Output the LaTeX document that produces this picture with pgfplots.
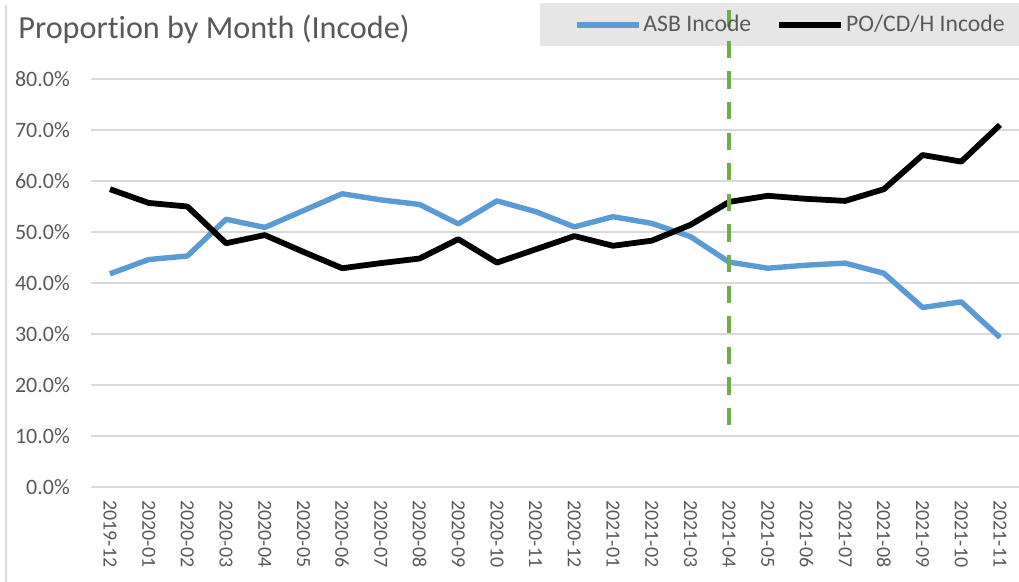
\documentclass[border=0pt]{standalone}
\usepackage{fontspec}
\setmainfont{Carlito}[Ligatures=NoCommon]
\usepackage{pgfplots}
\pgfplotsset{compat=1.18}
\definecolor{asb}{HTML}{5B9BD5}
\definecolor{grn}{HTML}{70AD47}
\definecolor{grd}{HTML}{D9D9D9}
\definecolor{txt}{HTML}{595959}
\definecolor{lgbg}{HTML}{E6E6E6}
\newlength\px \setlength\px{0.5pt}
\begin{document}
\begin{tikzpicture}
\useasboundingbox (0,0) rectangle (1019\px,-582\px);
\fill[white] (0,0) rectangle (1019\px,-582\px);
\draw[grd, line width=1.5\px] (6\px,-5\px) -- (6\px,-582\px);
\fill[lgbg] (540\px,-3\px) rectangle (1019\px,-46\px);
\node[anchor=base west, inner sep=0pt, text=txt, font=\fontsize{16.1pt}{19pt}\selectfont] at (18\px,-38.5\px) {Proportion by Month (Incode)};
\begin{axis}[
  at={(90.65\px,-487\px)}, anchor=south west,
  scale only axis, width=928.7\px, height=408\px,
  xmin=-0.5, xmax=23.5, ymin=0, ymax=80,
  clip=false,
  axis line style={draw=none},
  major tick length=0pt,
  ymajorgrids, grid style={grd, line width=1pt},
  ytick={0,10,...,80},
  yticklabels={0.0\%,10.0\%,20.0\%,30.0\%,40.0\%,50.0\%,60.0\%,70.0\%,80.0\%},
  yticklabel style={anchor=east, inner sep=0pt, xshift=-20.5\px, text=txt, font=\fontsize{11pt}{13pt}\selectfont},
  xtick=data,
  xticklabels={2019-12,2020-01,2020-02,2020-03,2020-04,2020-05,2020-06,2020-07,2020-08,2020-09,2020-10,2020-11,2020-12,2021-01,2021-02,2021-03,2021-04,2021-05,2021-06,2021-07,2021-08,2021-09,2021-10,2021-11},
  xticklabel style={yshift=-13\px, rotate=-90, anchor=west, inner sep=0pt, text=txt, font=\fontsize{10pt}{12pt}\selectfont},
  legend columns=2,
  legend style={at={(axis description cs:0.5205,1.1324)}, anchor=west, draw=none, fill=none, inner sep=0pt, outer sep=0pt,
    nodes={inner xsep=1pt, inner ysep=0pt, text=txt, font=\fontsize{11.85pt}{14pt}\selectfont},
    /tikz/every even column/.append style={column sep=23\px}},
  legend image code/.code={\draw[#1] (0pt,0pt) -- (31pt,0pt);},
]
\addplot[asb, line width=2.7pt, line join=round] coordinates {
(0,41.8) (1,44.6) (2,45.3) (3,52.5) (4,50.9) (5,54.2) (6,57.5) (7,56.3) (8,55.4) (9,51.6) (10,56.1) (11,54.0)
(12,51.0) (13,53.0) (14,51.7) (15,49.1) (16,44.1) (17,42.9) (18,43.5) (19,43.9) (20,41.9) (21,35.2) (22,36.3) (23,29.3)};
\addlegendentry{ASB Incode}
\addplot[black, line width=2.9pt, line join=round] coordinates {
(0,58.4) (1,55.7) (2,55.0) (3,47.8) (4,49.4) (5,46.1) (6,42.9) (7,43.9) (8,44.8) (9,48.6) (10,44.0) (11,46.6)
(12,49.2) (13,47.3) (14,48.3) (15,51.4) (16,55.9) (17,57.1) (18,56.5) (19,56.1) (20,58.4) (21,65.1) (22,63.8) (23,71.0)};
\addlegendentry{PO/CD/H Incode}
\addplot[grn, line width=2.2pt, dash pattern=on 8.6pt off 6.7pt, forget plot] coordinates {(16,93.5) (16,12.2)};
\end{axis}
\end{tikzpicture}
\end{document}
